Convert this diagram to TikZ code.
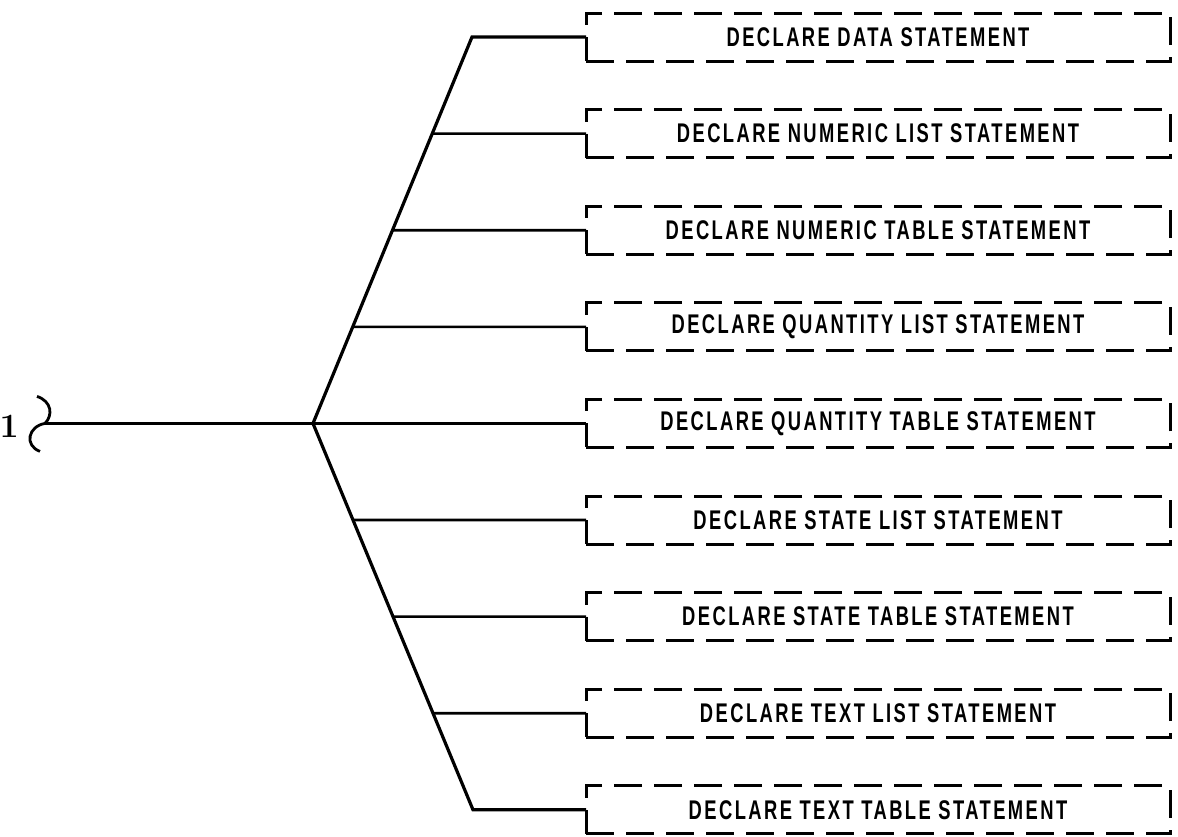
\documentclass[tikz,border=0pt]{standalone}
\usepackage{fontspec}
\newfontfamily\stmtfont[FakeStretch=0.68,LetterSpace=9]{Liberation Sans Bold}
\usetikzlibrary{positioning,calc}

\begin{document}
\begin{tikzpicture}[x=1pt, y=-1pt, node distance=48.6pt,
  stmtbox/.style={draw, line width=3pt, dash pattern=on 28pt off 12pt, minimum width=584pt, minimum height=48pt, inner sep=0pt, outer sep=0pt, font=\stmtfont\fontsize{27}{30}\selectfont},
  trunk/.style={line width=3.2pt},
  branch/.style={line width=2.6pt}, ]
  \useasboundingbox (0,0) rectangle (1178,836);

  \node[stmtbox, anchor=west] (d1) at (586,37) {DECLARE DATA STATEMENT};
  \node[stmtbox] (d2) [below=of d1] {DECLARE NUMERIC LIST STATEMENT};
  \node[stmtbox] (d3) [below=of d2] {DECLARE NUMERIC TABLE STATEMENT};
  \node[stmtbox] (d4) [below=of d3] {DECLARE QUANTITY LIST STATEMENT};
  \node[stmtbox] (d5) [below=of d4] {DECLARE QUANTITY TABLE STATEMENT};
  \node[stmtbox] (d6) [below=of d5] {DECLARE STATE LIST STATEMENT};
  \node[stmtbox] (d7) [below=of d6] {DECLARE STATE TABLE STATEMENT};
  \node[stmtbox] (d8) [below=of d7] {DECLARE TEXT LIST STATEMENT};
  \node[stmtbox] (d9) [below=of d8] {DECLARE TEXT TABLE STATEMENT};

  \coordinate (c) at (45,0 |- d5.west);
  \coordinate (j) at (313,0 |- d5.west);
  \coordinate (t) at (472,0 |- d1.west);
  \coordinate (b) at (473,0 |- d9.west);

  \node[inner sep=0pt, font=\bfseries\fontsize{34}{36}\selectfont] (one) [left=26pt of c, yshift=-3pt] {1};

  % curl at the incoming end
  \draw[line width=2.8pt] ($(c)+(-8,-27)$) .. controls ($(c)+(7,-22)$) and ($(c)+(8,-8)$) .. (c);
  \draw[line width=2.8pt] (c) .. controls ($(c)+(-17,3)$) and ($(c)+(-21,22)$) .. ($(c)+(-5,28)$);

  \draw[branch] (c) -- (d5.west);
  \draw[trunk] (d1.west) -- (t) -- (j) -- (b) -- (d9.west);

  \path[branch] (d2.west) edge (intersection of j--t and d2.west--d2.east)
                (d3.west) edge (intersection of j--t and d3.west--d3.east)
                (d4.west) edge (intersection of j--t and d4.west--d4.east)
                (d6.west) edge (intersection of j--b and d6.west--d6.east)
                (d7.west) edge (intersection of j--b and d7.west--d7.east)
                (d8.west) edge (intersection of j--b and d8.west--d8.east);
\end{tikzpicture}
\end{document}
